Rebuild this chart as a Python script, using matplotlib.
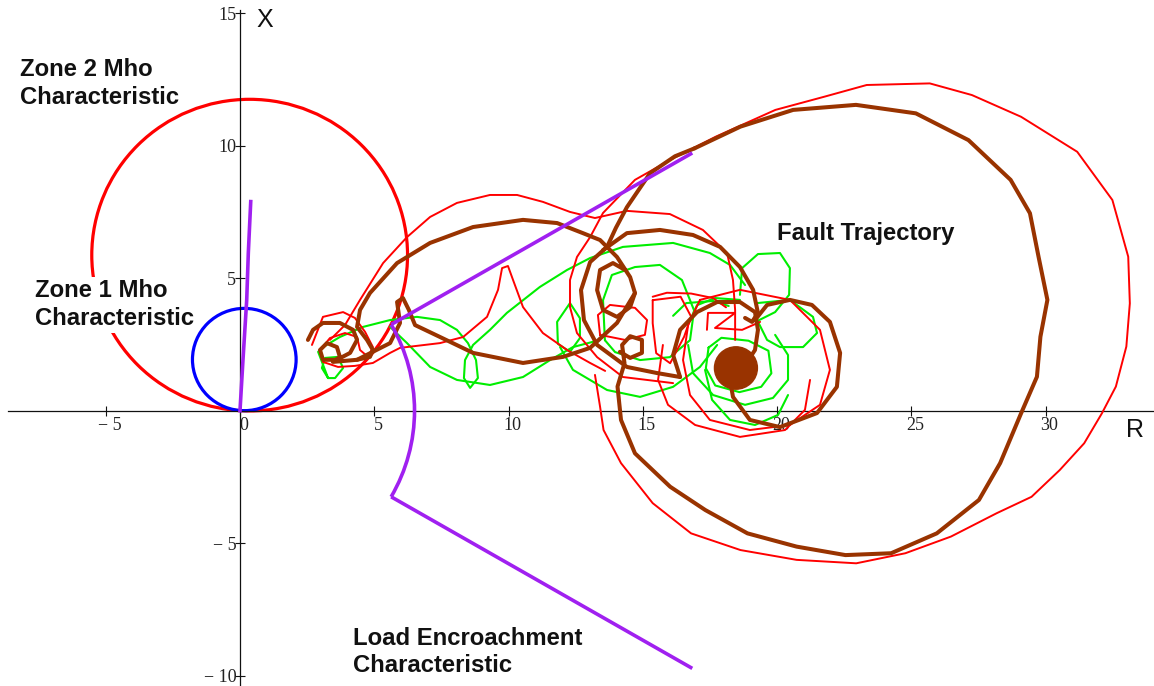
import numpy as np
import matplotlib
matplotlib.use("Agg")
import matplotlib.pyplot as plt
from matplotlib.patches import Circle, Arc
from matplotlib.transforms import ScaledTranslation

# ---------------- data ----------------
x_ticks = [-5, 0, 5, 10, 15, 20, 25, 30]
x_tick_labels = ["\u2212 5", "0", "5", "10", "15", "20", "25", "30"]
y_ticks = [-10, -5, 5, 10, 15]
y_tick_labels = ["\u2212 10", "\u2212 5", "5", "10", "15"]

zone1_center = (0.16, 1.93)
zone1_radius = 1.93
zone2_center = (0.36, 5.87)
zone2_radius = 5.88

load_arc_radius = 6.5
load_angle_deg = 30.0
load_reach = 19.45
load_vertical_x = [0.0, 0.11, 0.25, 0.31, 0.40]
load_vertical_y = [0.0, 1.90, 4.17, 5.95, 7.89]

blob_center = (18.47, 1.61)
blob_radius = 0.8

brown_upper = [(2.53, 2.67), (2.72, 3.05), (3.09, 3.31), (3.72, 3.31), (4.21, 3.05), (4.36, 2.67),
               (4.10, 2.18), (3.61, 1.92), (3.09, 1.92), (2.98, 2.29), (3.24, 2.55), (3.61, 2.40),
               (3.72, 2.03), (3.46, 1.84), (4.36, 1.92), (4.84, 2.03), (4.95, 2.29), (4.73, 2.67),
               (4.36, 3.16), (4.47, 3.80), (4.84, 4.44), (5.85, 5.57), (7.08, 6.33), (8.68, 6.93),
               (10.54, 7.20), (11.81, 7.08), (12.77, 6.70), (13.41, 6.44), (14.04, 5.80), (14.53, 5.04),
               (14.71, 4.44), (14.53, 3.91), (14.04, 3.54), (13.52, 3.80), (13.30, 4.55), (13.41, 5.31),
               (13.89, 5.57), (14.34, 5.31)]
brown_ring = [(13.67, 6.18), (13.04, 5.61), (12.70, 4.55), (12.81, 3.42), (13.30, 2.48),
              (14.41, 1.65), (15.53, 1.42), (16.39, 1.27)]
brown_lower = [(4.36, 1.92), (5.59, 2.55), (5.96, 3.31), (5.85, 4.10), (6.07, 4.25), (6.29, 3.80),
               (6.52, 3.23), (7.45, 2.78), (8.68, 2.18), (10.54, 1.80), (12.03, 2.03), (13.04, 2.37),
               (14.04, 3.31), (14.71, 4.44)]
brown_rise = [(13.67, 6.18), (14.0, 6.9), (14.41, 7.68), (15.27, 8.96), (16.2, 9.6), (16.93, 9.90)]
brown_big = [(16.93, 9.90), (18.64, 10.72), (20.60, 11.35), (22.94, 11.54), (25.17, 11.22),
             (27.13, 10.21), (28.70, 8.71), (29.42, 7.45), (29.74, 5.81), (30.07, 4.18),
             (29.81, 2.79), (29.68, 1.28), (29.09, -0.10), (28.31, -1.98), (27.52, -3.37),
             (25.95, -4.63), (24.25, -5.38), (22.55, -5.45), (20.73, -5.13), (18.90, -4.63),
             (17.33, -3.75), (16.02, -2.87), (14.71, -1.61), (14.19, -0.35), (14.06, 0.91),
             (14.32, 1.79), (14.23, 2.48), (14.53, 2.81), (14.97, 2.67), (14.97, 2.18),
             (14.53, 1.99), (14.15, 2.22)]
brown_mid_arc = [(13.52, 6.06), (14.41, 6.70), (15.64, 6.82), (16.87, 6.63), (17.88, 6.18),
                 (18.62, 5.42), (19.11, 4.56), (19.29, 3.69), (19.07, 3.35), (18.81, 3.50)]
brown_circle1 = [(16.39, 1.27), (16.13, 2.10), (16.39, 3.05), (17.02, 3.72), (17.77, 4.10),
                 (18.62, 4.10), (19.18, 3.72), (19.29, 3.05), (19.18, 2.29), (18.81, 1.72)]
brown_circle2 = [(19.18, 3.42), (19.63, 3.99), (20.48, 4.18), (21.30, 3.99), (21.97, 3.35),
                 (22.35, 2.18), (22.23, 0.90), (21.49, -0.09), (20.11, -0.62), (18.99, -0.35),
                 (18.36, 0.52), (18.25, 1.16)]

red_left = [(2.68, 2.48), (3.09, 3.54), (3.84, 3.72), (4.28, 3.50), (4.66, 2.97), (4.95, 2.40),
            (4.77, 2.03), (4.47, 2.29), (4.36, 2.78), (3.91, 2.93), (3.35, 2.74), (2.98, 2.29),
            (3.09, 1.84), (3.65, 1.65), (4.28, 1.69), (4.95, 1.80), (5.59, 2.18), (5.96, 2.37),
            (7.45, 2.55), (8.31, 2.78), (9.20, 3.54), (9.61, 4.56), (9.76, 5.38), (9.98, 5.46),
            (10.17, 4.93), (10.54, 3.91), (11.28, 2.93), (12.18, 2.29), (13.04, 1.80), (13.6, 1.5)]
red_top_arc = [(3.35, 2.67), (3.91, 3.23), (4.47, 4.18), (5.33, 5.57), (6.22, 6.55), (7.08, 7.31),
               (8.08, 7.84), (9.31, 8.14), (10.32, 8.14), (11.28, 7.88), (12.29, 7.50), (13.22, 7.27),
               (14.41, 7.54), (16.01, 7.42), (17.24, 6.82), (18.14, 5.95), (18.36, 4.93),
               (18.44, 3.80), (18.44, 2.67)]
red_outer = [(16.13, 1.04), (14.26, 1.27), (13.30, 2.02), (12.55, 2.93), (12.29, 3.91), (12.29, 4.93),
             (12.55, 5.80), (13.04, 6.55), (13.52, 7.46), (14.71, 8.71), (16.02, 9.46), (17.72, 10.34),
             (19.94, 11.35), (21.77, 11.85), (23.34, 12.29), (25.69, 12.35), (27.26, 11.91),
             (29.09, 11.09), (31.18, 9.77), (32.49, 7.95), (33.08, 5.81), (33.14, 4.05),
             (33.01, 2.42), (32.62, 0.91), (32.10, -0.10), (31.44, -1.23), (30.53, -2.24),
             (29.48, -3.25), (28.18, -3.87), (26.48, -4.75), (24.78, -5.38), (22.95, -5.76),
             (20.73, -5.63), (18.64, -5.26), (16.80, -4.63), (15.37, -3.49), (14.19, -1.98),
             (13.54, -0.73), (13.41, 0.15), (13.22, 1.35)]
red_ring = [(13.41, 2.86), (13.33, 3.61), (13.78, 3.99), (14.71, 3.88), (15.16, 3.42), (15.08, 2.86),
            (14.34, 2.67), (13.41, 2.86)]
red_loop = [(15.37, 4.17), (16.41, 4.30), (16.80, 3.55), (16.54, 2.79), (16.02, 1.79), (15.50, 2.17),
            (15.37, 3.30), (15.37, 4.17)]
red_right = [(17.13, 4.18), (18.62, 4.56), (20.48, 4.18), (21.60, 3.05), (21.97, 1.54), (21.60, 0.22),
             (20.48, -0.54), (18.99, -0.73), (17.50, -0.35), (16.76, 0.59), (16.50, 1.91),
             (16.69, 3.23), (17.13, 4.18)]
red_zigzag = [(17.39, 3.05), (17.43, 3.69), (18.44, 3.69), (17.69, 3.12), (18.70, 3.05), (19.37, 3.35)]
red_low = [(15.75, 2.48), (15.57, 1.16), (15.94, 0.22), (16.95, -0.54), (18.62, -0.99),
           (20.30, -0.73), (21.04, 0.03), (21.23, 1.16)]
red_upper_left = [(15.37, 4.30), (15.9, 4.45), (16.8, 4.42), (17.62, 4.25), (18.1, 3.9)]

green_left = [(3.28, 1.23), (3.05, 1.61), (3.17, 1.99), (3.65, 2.03), (3.84, 1.61), (3.54, 1.23),
              (3.28, 1.23), (2.91, 2.22), (3.09, 2.40), (3.72, 2.78), (4.58, 3.16), (5.59, 3.42),
              (6.59, 3.54), (7.45, 3.42), (8.08, 3.05), (8.49, 2.55), (8.79, 1.91), (8.86, 1.23),
              (8.57, 0.86), (8.34, 1.23), (8.38, 1.91), (8.68, 2.48), (9.31, 3.05), (9.94, 3.69),
              (11.17, 4.67), (12.18, 5.31), (13.04, 5.76), (14.26, 6.18), (16.13, 6.33),
              (17.50, 5.95), (18.25, 5.50), (18.81, 4.74)]
green_bottom = [(5.59, 3.16), (6.22, 2.55), (7.08, 1.65), (8.08, 1.16), (9.31, 0.97), (10.54, 1.27),
                (11.55, 1.91), (12.40, 2.40), (13.41, 2.67)]
green_oval = [(12.29, 4.06), (12.66, 3.49), (12.66, 2.74), (12.29, 2.22), (11.84, 2.52),
              (11.81, 3.35), (12.29, 4.06)]
green_mid_arc = [(11.92, 2.40), (12.40, 1.54), (13.67, 0.78), (14.90, 0.52), (16.13, 0.90),
                 (17.13, 1.65), (17.77, 2.48)]
green_mid_loop = [(13.59, 2.66), (13.52, 4.17), (13.85, 5.12), (14.71, 5.42), (15.64, 5.50),
                  (16.46, 4.93), (16.91, 3.79), (16.76, 2.66), (16.01, 2.02), (14.90, 1.91),
                  (13.97, 2.21), (13.59, 2.66)]
green_top_loop = [(18.62, 4.37), (18.70, 5.38), (19.29, 5.91), (20.11, 5.95), (20.48, 5.38),
                  (20.45, 4.37), (19.93, 3.72), (19.3, 3.4)]
green_right_loop = [(19.26, 4.06), (20.48, 4.18), (21.34, 3.54), (21.49, 2.93), (20.97, 2.40),
                    (20.11, 2.40), (19.63, 2.67), (19.26, 3.42)]
green_blob_a = [(16.76, 3.41), (17.02, 3.98), (17.69, 4.25), (18.62, 4.18)]
green_blob_b = [(16.69, 2.48), (16.87, 1.42), (17.62, 0.59), (18.81, 0.22), (19.85, 0.48),
                (20.41, 1.16), (20.41, 2.10), (19.93, 2.86)]
green_blob_c = [(17.32, 1.54), (17.58, 0.41), (18.25, -0.35), (19.18, -0.54), (20.04, -0.16),
                (20.41, 0.59)]
green_blob_ring = [(17.45, 2.38), (17.93, 2.75), (18.94, 2.64), (19.68, 2.26), (19.79, 1.41),
                   (19.41, 0.90), (18.6, 0.7), (17.7, 0.95), (17.35, 1.6), (17.45, 2.38)]
green_left_arc = [(16.13, 3.58), (16.62, 4.06), (17.62, 4.14), (18.2, 3.95)]

# ---------------- styles ----------------
RED = "#ff0000"
GREEN = "#00ee00"
BROWN = "#993300"
BLUE = "#0000ff"
PURPLE = "#a020f0"

fig = plt.figure(figsize=(11.54, 6.86), dpi=100)
ax = fig.add_axes([8 / 1154, 0.0, 1146 / 1154, 676 / 686])
ax.set_xlim(-8.64, 34.04)
ax.set_ylim(-10.39, 15.12)

for s in ["top", "right"]:
    ax.spines[s].set_visible(False)
for s in ["left", "bottom"]:
    ax.spines[s].set_position(("data", 0))
    ax.spines[s].set_linewidth(0.9)
    ax.spines[s].set_color("#111111")

ax.set_xticks(x_ticks)
ax.set_xticklabels(x_tick_labels)
ax.set_yticks(y_ticks)
ax.set_yticklabels(y_tick_labels)
ax.tick_params(direction="inout", length=7.5, width=0.8, color="#111111",
               labelsize=13, labelcolor="#222222")
ax.tick_params(axis="x", pad=1)
ax.tick_params(axis="y", pad=-1)
for lab in ax.get_xticklabels() + ax.get_yticklabels():
    lab.set_fontfamily("Liberation Serif")
for lab in ax.get_xticklabels():
    lab.set_transform(lab.get_transform() + ScaledTranslation(4 / 100, 0, fig.dpi_scale_trans))

# mho circles
ax.add_patch(Circle(zone2_center, zone2_radius, fill=False, ec=RED, lw=2.3, zorder=2))
ax.add_patch(Circle(zone1_center, zone1_radius, fill=False, ec=BLUE, lw=2.3, zorder=2))


def draw(seg, color, lw, z):
    xs = [p[0] for p in seg]
    ys = [p[1] for p in seg]
    ax.plot(xs, ys, color=color, lw=lw, zorder=z, solid_joinstyle="round", solid_capstyle="round")


for seg in [green_left, green_bottom, green_oval, green_mid_arc, green_mid_loop, green_top_loop,
            green_right_loop, green_blob_a, green_blob_b, green_blob_c, green_blob_ring,
            green_left_arc]:
    draw(seg, GREEN, 1.5, 3)
for seg in [red_left, red_top_arc, red_outer, red_ring, red_loop, red_right, red_zigzag, red_low,
            red_upper_left]:
    draw(seg, RED, 1.4, 4)
for seg in [brown_upper, brown_ring, brown_lower, brown_rise, brown_big, brown_mid_arc,
            brown_circle1, brown_circle2]:
    draw(seg, BROWN, 2.9, 5)
ax.add_patch(Circle(blob_center, blob_radius, fc=BROWN, ec=BROWN, lw=1, zorder=5))

# load encroachment characteristic
ax.plot(load_vertical_x, load_vertical_y, color=PURPLE, lw=2.6, zorder=6)
ax.add_patch(Arc((0, 0), 2 * load_arc_radius, 2 * load_arc_radius, theta1=-load_angle_deg,
                 theta2=load_angle_deg, ec=PURPLE, lw=2.6, zorder=6))
a = np.deg2rad(load_angle_deg)
for sgn in (1, -1):
    ax.plot([load_arc_radius * np.cos(a), load_reach * np.cos(a)],
            [sgn * load_arc_radius * np.sin(a), sgn * load_reach * np.sin(a)],
            color=PURPLE, lw=2.6, zorder=6, solid_capstyle="butt")

# labels
lab_kw = dict(fontfamily="Liberation Sans", fontweight="bold", fontsize=17.2, color="#111111",
              ha="left", va="top", linespacing=1.25, zorder=10)
ax.text(-8.19, 13.29, "Zone 2 Mho\nCharacteristic", **lab_kw)
ax.text(-7.64, 4.95, "Zone 1 Mho\nCharacteristic",
        bbox=dict(facecolor="white", edgecolor="none", pad=2), **lab_kw)
ax.text(20.0, 7.11, "Fault Trajectory", **lab_kw)
ax.text(4.22, -8.15, "Load Encroachment\nCharacteristic", **lab_kw)

ax.text(0.62, 14.48, "X", fontfamily="Liberation Sans", fontsize=18, color="#111111",
        ha="left", va="baseline")
ax.text(33.0, -0.99, "R", fontfamily="Liberation Sans", fontsize=18, color="#111111",
        ha="left", va="baseline")

fig.savefig("out.png", dpi=100)
